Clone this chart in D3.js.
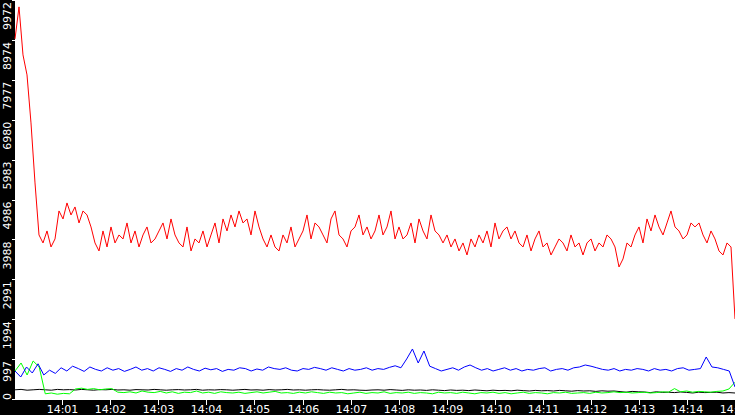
<!DOCTYPE html>
<html>
<head>
<style>
  body { margin: 0; background: #fff; font-family: "DejaVu Sans", sans-serif; }
</style>
</head>
<body>
<div id="chart"></div>
<script src="https://d3js.org/d3.v7.min.js"></script>
<script>
var yTicks = [0, 997, 1994, 2991, 3988, 4986, 5983, 6980, 7977, 8974, 9972];
var xTickLabels = ["14:01","14:02","14:03","14:04","14:05","14:06","14:07","14:08","14:09","14:10","14:11","14:12","14:13","14:14","14:15"];

var red = [9000,9800,8600,8100,6900,5400,4100,3900,4200,3800,4000,4700,4500,4900,4600,4800,4400,4700,4600,4300,3900,3700,4200,3800,4300,3900,4100,4000,4400,3900,4200,3800,4100,4300,3900,4000,4200,4400,4000,4500,4100,3900,3800,4300,3700,4000,3900,4200,3800,4100,4400,3900,4500,4200,4600,4300,4700,4400,4500,4100,4700,4300,4000,3800,4100,3800,3700,4100,3900,4300,3800,4000,4200,4600,4000,4400,4300,4100,3900,4500,4700,4100,4000,3800,4200,4300,4600,4100,4300,4000,4200,4600,4100,4300,4700,4000,4300,4000,4100,4400,3900,4500,4200,4000,4600,4200,4100,3900,4100,3800,4000,3700,3900,3600,4000,3800,4100,3900,4200,3800,4400,4000,4200,4300,4000,4200,3900,3800,4100,3700,4000,4200,3800,3900,3600,3800,4000,3900,3700,4100,3800,3900,3600,3900,4000,3700,3900,3800,4100,4000,3800,3300,3500,3900,3800,4100,4300,3900,4500,4200,4600,4300,4100,4400,4700,4300,4200,4000,4100,4400,4300,4400,4100,3900,4200,4000,3700,3600,3900,3800,2000];
var blue = [700,550,800,650,880,600,720,640,780,700,820,760,690,800,740,700,780,720,760,690,740,800,720,760,700,780,740,690,760,720,800,740,700,770,730,760,690,740,720,780,760,700,750,720,800,760,740,780,720,700,760,740,790,760,720,780,740,700,760,720,740,780,720,760,740,790,830,780,1000,1250,900,1200,820,760,700,740,780,720,800,850,780,720,760,700,740,780,720,760,700,740,720,760,780,700,740,760,720,780,800,850,820,780,740,720,760,700,740,720,760,740,700,760,720,740,700,760,780,720,740,760,1050,800,780,740,700,300];
var green = [700,900,600,950,800,130,150,120,140,130,250,270,240,260,230,250,260,170,160,180,150,200,170,160,190,150,180,140,170,160,200,150,170,140,180,160,150,170,140,160,180,150,170,190,150,160,140,170,150,180,160,140,170,150,160,130,150,170,140,160,150,180,140,160,150,170,140,160,150,130,170,150,160,140,170,150,130,160,150,170,140,160,130,150,170,140,160,150,130,160,150,170,140,150,160,140,170,150,160,180,160,170,150,160,170,150,160,180,170,260,180,200,170,190,180,170,190,200,250,420];
var black = [230,240,220,230,240,230,220,240,230,235,225,240,230,220,235,230,240,225,230,220,235,230,225,240,230,220,230,235,225,230,240,220,230,225,235,230,220,230,240,225,230,220,235,225,230,240,225,230,220,230,235,225,220,230,240,225,230,220,215,225,230,220,235,225,215,230,220,225,215,230,220,210,225,215,220,210,225,215,205,220,210,215,205,220,210,200,215,205,210,200,215,205,195,210,200,205,190,205,195,200,185,170,190,180,175,160,180,165,170,160,175,165,150,170,160,165,170,150,160,150];

var W = 735, H = 415, left = 15, bottom = 400;
var t0 = new Date(2000, 0, 1, 14, 0, 1), t1 = new Date(2000, 0, 1, 14, 15, 0);
var xTimes = xTickLabels.map(function (s) { var p = s.split(":"); return new Date(2000, 0, 1, +p[0], +p[1], 0); });

var x = d3.scaleTime().domain([t0, t1]).range([left, W]);
var y = d3.scaleLinear().domain([0, 9972]).range([399, 0]);

var svg = d3.select("#chart").append("svg").attr("width", W).attr("height", H);
svg.append("rect").attr("width", W).attr("height", H).attr("fill", "#fff");
svg.append("rect").attr("width", left).attr("height", H).attr("fill", "#000");
svg.append("rect").attr("y", bottom).attr("width", W).attr("height", H - bottom).attr("fill", "#000");

function draw(data, color) {
  var n = data.length;
  var line = d3.line()
    .x(function (d, i) { return x(new Date(+t0 + i * (t1 - t0) / (n - 1))); })
    .y(function (d) { return y(d); });
  svg.append("path").datum(data).attr("fill", "none").attr("stroke", color)
    .attr("stroke-width", 1).attr("d", line);
}
draw(black, "#000");
draw(green, "#00ff00");
draw(blue, "#0000ff");
draw(red, "#ff0000");

// y axis: labels sit just below their tick, reading upward
var yg = svg.append("g");
yTicks.forEach(function (v) {
  var py = Math.round(y(v)) + 0.5;
  yg.append("line").attr("x1", 12).attr("x2", left).attr("y1", py).attr("y2", py).attr("stroke", "#fff");
  var ty = v === 0 ? 400 : y(v) + 2;
  yg.append("text").attr("transform", "translate(11," + ty + ") rotate(-90)")
    .attr("text-anchor", "end").attr("fill", "#fff").attr("font-size", 11)
    .text(v).attr("text-anchor", v === 0 ? "start" : "end");
});

// x axis
var xg = svg.append("g");
xTimes.forEach(function (t, i) {
  var px = Math.round(x(t)) + 0.5;
  xg.append("line").attr("x1", px).attr("x2", px).attr("y1", bottom).attr("y2", bottom + 5).attr("stroke", "#fff");
  xg.append("text").attr("x", px).attr("y", 413).attr("text-anchor", "middle")
    .attr("fill", "#fff").attr("font-size", 11).text(xTickLabels[i]);
});
</script>
</body>
</html>
